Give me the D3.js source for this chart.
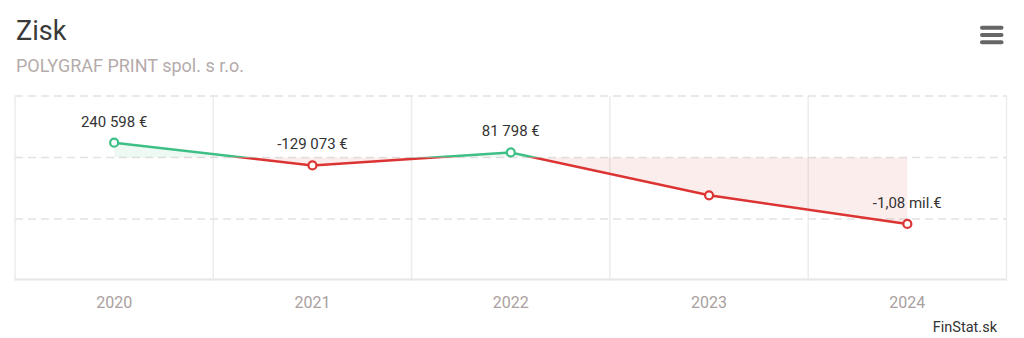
<!DOCTYPE html>
<html><head><meta charset="utf-8">
<script src="https://cdn.jsdelivr.net/npm/d3@7"></script>
<style>
html,body{margin:0;padding:0;background:#fff;}
svg{display:block;font-family:Roboto,"Noto Sans",sans-serif;}
</style></head>
<body><svg id="c" width="1024" height="338"></svg>
<script>
const years = ["2020","2021","2022","2023","2024"];
const profit = [240598, -129073, 81798, -615000, -1080000];
const labels = ["240 598 €", "-129 073 €", "81 798 €", null, "-1,08 mil.€"];
const yTicks = [1000000, 0, -1000000, -2000000];
const title = "Zisk";
const subtitle = "POLYGRAF PRINT spol. s r.o.";
const credit = "FinStat.sk";

const svg = d3.select("#c");
const L = 15, R = 1006.5, T = 96, B = 280.5;
const x = d3.scaleBand().domain(years).range([L, R]);
const y = d3.scaleLinear().domain([-2000000, 1000000]).range([B, T]);
const cx = d => x(d) + x.bandwidth()/2;
const green = "#3dbf85", red = "#dc3333";

svg.append("text").attr("x",16).attr("y",40).attr("font-size",27).attr("fill","#3a3a3a").text(title);
svg.append("text").attr("x",16).attr("y",71.5).attr("font-size",18).attr("fill","#b5abab").text(subtitle);

// menu icon
[27.7,35,42.3].forEach(yy=>{
  svg.append("line").attr("x1",982).attr("x2",1001.5).attr("y1",yy).attr("y2",yy)
    .attr("stroke","#666").attr("stroke-width",4).attr("stroke-linecap","round");
});

// vertical grid
const vg = x.domain().map(d=>x(d)).concat([R]);
svg.append("g").selectAll("line").data(vg).join("line")
  .attr("x1",d=>d).attr("x2",d=>d).attr("y1",T).attr("y2",B)
  .attr("stroke","#ececec").attr("stroke-width",1.5);

// horizontal dashed grid
svg.append("g").selectAll("line").data(yTicks.slice(0,3)).join("line")
  .attr("x1",L).attr("x2",R).attr("y1",d=>y(d)).attr("y2",d=>y(d))
  .attr("stroke","#e2e2e2").attr("stroke-width",1.5).attr("stroke-dasharray","8,5");
svg.append("line").attr("x1",L).attr("x2",R).attr("y1",B-1).attr("y2",B-1)
  .attr("stroke","#e6e6e6").attr("stroke-width",2);

// clips
const defs = svg.append("defs");
defs.append("clipPath").attr("id","pos").append("rect").attr("x",0).attr("y",0).attr("width",1024).attr("height",y(0));
defs.append("clipPath").attr("id","neg").append("rect").attr("x",0).attr("y",y(0)).attr("width",1024).attr("height",338-y(0));

const pts = years.map((d,i)=>[cx(d), y(profit[i])]);
const area = d3.area().x(d=>d[0]).y0(y(0)).y1(d=>d[1]);
const line = d3.line();

svg.append("path").attr("d",area(pts)).attr("fill","rgba(61,191,133,0.09)").attr("clip-path","url(#pos)");
svg.append("path").attr("d",area(pts)).attr("fill","rgba(220,51,51,0.09)").attr("clip-path","url(#neg)");
svg.append("path").attr("d",line(pts)).attr("fill","none").attr("stroke",green).attr("stroke-width",2.5).attr("clip-path","url(#pos)");
svg.append("path").attr("d",line(pts)).attr("fill","none").attr("stroke",red).attr("stroke-width",2.5).attr("clip-path","url(#neg)");

svg.append("g").selectAll("circle").data(years).join("circle")
  .attr("cx",d=>cx(d)).attr("cy",(d,i)=>y(profit[i])).attr("r",4)
  .attr("fill","#fff").attr("stroke",(d,i)=>profit[i]>=0?green:red).attr("stroke-width",2.2);

svg.append("g").selectAll("text").data(years.filter((d,i)=>labels[i])).join("text")
  .attr("x",d=>cx(d)).attr("y",d=>y(profit[years.indexOf(d)])-16)
  .attr("text-anchor","middle").attr("font-size",15).attr("fill","#333")
  .text(d=>labels[years.indexOf(d)]);

// x axis labels
svg.append("g").selectAll("text").data(years).join("text")
  .attr("x",d=>cx(d)).attr("y",307.5).attr("text-anchor","middle")
  .attr("font-size",16).attr("fill","#aaa0a0").text(d=>d);

svg.append("text").attr("x",997).attr("y",331.5).attr("text-anchor","end")
  .attr("font-size",14.5).attr("fill","#333").text(credit);
</script></body></html>
